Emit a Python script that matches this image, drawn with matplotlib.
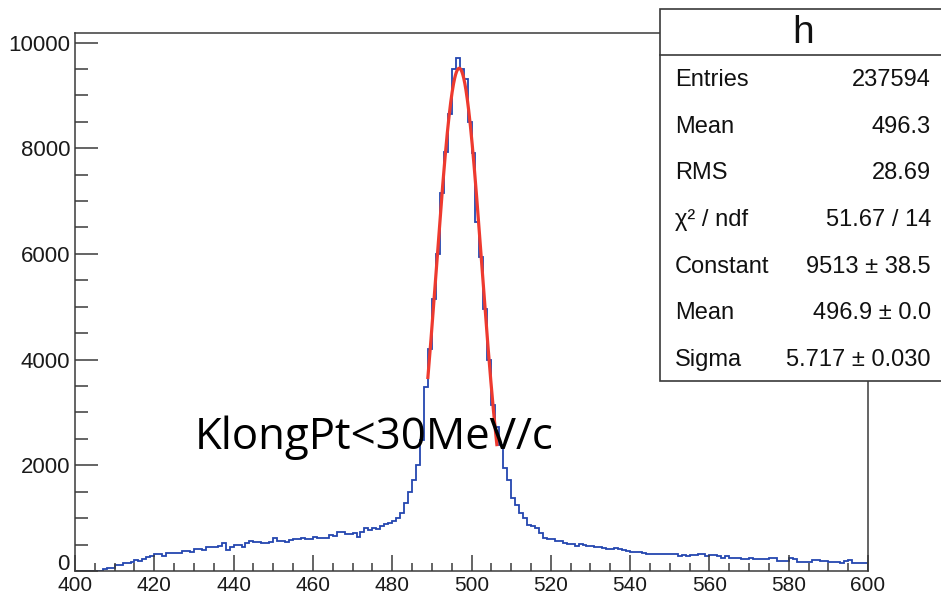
import numpy as np
import matplotlib.pyplot as plt
from matplotlib.patches import Rectangle
from matplotlib.lines import Line2D
from matplotlib.ticker import MultipleLocator, FuncFormatter

plt.rcParams['font.family'] = ['Liberation Sans', 'DejaVu Sans']

# histogram: 200 bins of 1 MeV from 400 to 600
bin_edges = np.arange(400, 601, 1)
counts = [
    0, 0, 0, 0, 0, 0, 0, 32, 63, 63,                       # 400-409
    114, 114, 145, 145, 177, 208, 190, 221, 259, 284,      # 410-419
    316, 316, 284, 335, 335, 335, 347, 379, 379, 360,      # 420-429
    410, 410, 401, 461, 461, 450, 473, 524, 400, 453,      # 430-439
    492, 492, 461, 524, 568, 556, 556, 524, 524, 556,      # 440-449
    631, 568, 568, 543, 587, 600, 600, 631, 600, 600,      # 450-459
    650, 631, 631, 631, 682, 662, 732, 732, 694, 694,      # 460-469
    713, 650, 745, 820, 776, 808, 795, 850, 880, 900,      # 470-479
    940, 1000, 1104, 1282, 1500, 1720, 2010, 2480, 3490, 4200,   # 480-489
    5150, 6000, 7150, 7920, 8650, 9490, 9710, 9490, 9310, 8500,  # 490-499
    7900, 6600, 5950, 4950, 4000, 3150, 2730, 2390, 1945, 1720,  # 500-509
    1380, 1250, 1090, 1000, 870, 850, 810, 725, 620, 600,  # 510-519
    600, 575, 560, 535, 505, 505, 480, 505, 495, 480,      # 520-529
    480, 460, 455, 440, 410, 415, 440, 410, 405, 385,      # 530-539
    365, 360, 360, 335, 330, 330, 330, 330, 330, 330,      # 540-549
    330, 315, 285, 300, 285, 303, 303, 316, 316, 284,      # 550-559
    303, 303, 284, 252, 284, 252, 252, 252, 221, 221,      # 560-569
    246, 221, 221, 221, 221, 240, 240, 196, 196, 196,      # 570-579
    252, 221, 177, 177, 177, 164, 208, 208, 189, 189,      # 580-589
    177, 177, 177, 158, 189, 208, 145, 158, 158, 158,      # 590-599
]

# gaussian fit result (from the stat box)
fit_const = 9513
fit_mean = 496.9
fit_sigma = 5.717
fit_range = (489.0, 506.4)

stat_title = "h"
stat_labels = ["Entries", "Mean", "RMS", "χ² / ndf", "Constant", "Mean", "Sigma"]
stat_values = ["237594", "496.3", "28.69", "51.67 / 14", "9513 ± 38.5",
               "496.9 ± 0.0", "5.717 ± 0.030"]

note = "KlongPt<30MeV/c"

W, H = 941, 597
fig = plt.figure(figsize=(W / 100, H / 100), dpi=100)
ax = fig.add_axes([75 / W, 1 - 571 / H, (868 - 75) / W, (571 - 33) / H])

ax.stairs(counts, bin_edges, color='#2446b0', lw=1.3)
xf = np.linspace(fit_range[0], fit_range[1], 300)
ax.plot(xf, fit_const * np.exp(-0.5 * ((xf - fit_mean) / fit_sigma) ** 2),
        color='#ee3a2f', lw=2.3)

ax.set_xlim(400, 600)
ax.set_ylim(0, 10180)
ax.xaxis.set_major_locator(MultipleLocator(20))
ax.xaxis.set_minor_locator(MultipleLocator(5))
ax.yaxis.set_major_locator(MultipleLocator(2000))
ax.yaxis.set_minor_locator(MultipleLocator(500))
# the y "0" sits a bit higher in ROOT; drawn separately below
ax.yaxis.set_major_formatter(FuncFormatter(lambda v, p: '' if v == 0 else f'{v:g}'))

axis_col = '#3a3a3a'
lab_col = '#1a1a1a'
for s in ax.spines.values():
    s.set_color(axis_col)
    s.set_linewidth(1.1)
ax.tick_params(axis='both', which='both', direction='in', color=axis_col,
               width=1.1, labelcolor=lab_col)
ax.tick_params(axis='x', which='major', length=11.5, pad=3.5, labelsize=15)
ax.tick_params(axis='x', which='minor', length=5.8)
ax.tick_params(axis='y', which='major', length=16.5, pad=3.5, labelsize=16)
ax.tick_params(axis='y', which='minor', length=9.4)
ax.annotate('0', xy=(0, 0), xycoords='axes fraction', xytext=(-5, 6),
            textcoords='offset pixels', ha='right', va='center', fontsize=16, color=lab_col)

# stat box
bx0, by0, by1, sep = 660 / W, 1 - 381 / H, 1 - 9 / H, 1 - 55 / H
fig.add_artist(Rectangle((bx0, by0), 1.05 - bx0, by1 - by0, transform=fig.transFigure,
                         facecolor='white', edgecolor=axis_col, lw=1.2, zorder=10))
fig.add_artist(Line2D([bx0, 1.0], [sep, sep], transform=fig.transFigure,
                      color=axis_col, lw=1.2, zorder=11))
fig.text(803 / W, 1 - 33 / H, stat_title, ha='center', va='center', fontsize=28,
         color='#111111', zorder=12)
for i, (lab, val) in enumerate(zip(stat_labels, stat_values)):
    yy = 1 - (80 + i * 46.67) / H
    fig.text(675 / W, yy, lab, ha='left', va='center', fontsize=17, color='#111111', zorder=12)
    fig.text(931 / W, yy, val, ha='right', va='center', fontsize=17, color='#111111', zorder=12)

fig.text(195 / W, 1 - 449 / H, note, ha='left', va='baseline', fontsize=31.5,
         family=['Open Sans', 'DejaVu Sans'], color='black')

fig.savefig('out.png', dpi=100)
